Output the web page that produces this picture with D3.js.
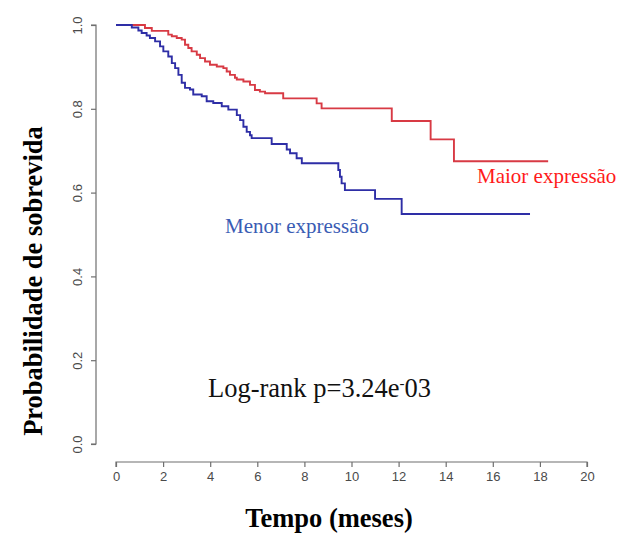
<!DOCTYPE html>
<html>
<head>
<meta charset="utf-8">
<script src="https://cdn.jsdelivr.net/npm/d3@7"></script>
<style>
  html, body { margin: 0; padding: 0; background: #fff; }
  svg { display: block; }
</style>
</head>
<body>
<svg id="chart" width="618" height="534"></svg>
<script>
// Kaplan–Meier survival estimates: step times (months) and survival after each step
const maiorTimes = [0, 1.23, 1.52, 2.22, 2.37, 2.58, 2.79, 2.93, 3.07, 3.21, 3.43, 3.57, 3.78, 3.99, 4.28, 4.56, 4.70, 4.84, 5.05, 5.13, 5.41, 5.69, 5.90, 6.11, 6.33, 7.10, 8.52, 8.73, 11.71, 13.36, 14.35, 18.35];
const maiorSurv  = [1.0, 0.993, 0.986, 0.977, 0.973, 0.969, 0.965, 0.953, 0.945, 0.937, 0.929, 0.921, 0.913, 0.905, 0.901, 0.897, 0.889, 0.881, 0.874, 0.870, 0.865, 0.857, 0.845, 0.841, 0.837, 0.825, 0.813, 0.801, 0.771, 0.727, 0.675, 0.675];

const menorTimes = [0, 0.67, 0.95, 1.09, 1.30, 1.44, 1.66, 1.87, 2.01, 2.22, 2.37, 2.51, 2.65, 2.79, 2.93, 3.14, 3.28, 3.64, 3.85, 4.13, 4.49, 4.77, 5.13, 5.27, 5.41, 5.55, 5.69, 5.76, 6.61, 7.25, 7.39, 7.67, 7.89, 9.44, 9.51, 9.58, 9.72, 11.0, 12.13, 17.58];
const menorSurv  = [1.0, 0.994, 0.987, 0.981, 0.975, 0.969, 0.961, 0.949, 0.937, 0.925, 0.909, 0.897, 0.881, 0.862, 0.850, 0.846, 0.834, 0.830, 0.818, 0.814, 0.806, 0.798, 0.785, 0.773, 0.757, 0.745, 0.737, 0.730, 0.716, 0.703, 0.694, 0.682, 0.670, 0.654, 0.638, 0.622, 0.606, 0.585, 0.549, 0.549];

const xTicks = [0, 2, 4, 6, 8, 10, 12, 14, 16, 18, 20];
const yTicks = [0.0, 0.2, 0.4, 0.6, 0.8, 1.0];

const seriesNames = ["Maior expressão", "Menor expressão"];
const xTitle = "Tempo (meses)";
const yTitle = "Probabilidade de sobrevida";
const pLabel = "Log-rank p=3.24e";
const pExp = "-03";

const svg = d3.select("#chart");

const x = d3.scaleLinear().domain([0, 20]).range([116, 587]);
const y = d3.scaleLinear().domain([0, 1]).range([444, 25]);

const axisColor = "#6f6f6f";
const tickText = "#4a4a4a";
const sans = "'Liberation Sans', Arial, sans-serif";
const serif = "'Liberation Serif', 'Times New Roman', serif";

// x axis (detached below the plot, R style)
const gx = svg.append("g").attr("transform", "translate(0,462)")
  .call(d3.axisBottom(x).tickValues(xTicks).tickSize(5).tickPadding(5).tickFormat(d3.format("d")));
gx.select(".domain").attr("stroke", axisColor).attr("stroke-width", 1.2)
  .attr("d", `M${x(0)},5V0H${x(20)}V5`);
gx.selectAll(".tick line").attr("stroke", axisColor).attr("stroke-width", 1.2);
gx.selectAll(".tick text").attr("fill", tickText)
  .style("font-family", sans).style("font-size", "13px");

// y axis with rotated labels
const gy = svg.append("g").attr("transform", "translate(96,0)")
  .call(d3.axisLeft(y).tickValues(yTicks).tickSize(5).tickFormat(d3.format(".1f")));
gy.select(".domain").attr("stroke", axisColor).attr("stroke-width", 1.2)
  .attr("d", `M-5,${y(0)}H0V${y(1)}H-5`);
gy.selectAll(".tick line").attr("stroke", axisColor).attr("stroke-width", 1.2);
gy.selectAll(".tick text").attr("fill", tickText)
  .style("font-family", sans).style("font-size", "13px")
  .attr("text-anchor", "middle").attr("x", 0).attr("dy", null)
  .attr("transform", "translate(-19,0) rotate(-90)")
  .attr("dominant-baseline", "central");

// survival step curves
const line = d3.line().curve(d3.curveStepAfter).x(d => x(d[0])).y(d => y(d[1]));
const curves = [
  { t: maiorTimes, s: maiorSurv, color: "#d83a44" },
  { t: menorTimes, s: menorSurv, color: "#2e2ea6" }
];
curves.forEach(c => {
  svg.append("path")
    .datum(c.t.map((t, i) => [t, c.s[i]]))
    .attr("fill", "none")
    .attr("stroke", c.color)
    .attr("stroke-width", 1.9)
    .attr("d", line);
});

// group labels
svg.append("text").attr("x", 477).attr("y", 183).attr("fill", "#ff1a1a")
  .style("font-family", serif).style("font-size", "21px").text(seriesNames[0]);
svg.append("text").attr("x", 225).attr("y", 233).attr("fill", "#3a5cb4")
  .style("font-family", serif).style("font-size", "21px").text(seriesNames[1]);

// log-rank p-value
const pt = svg.append("text").attr("x", 208).attr("y", 397).attr("fill", "#111")
  .style("font-family", serif).style("font-size", "26.5px").text(pLabel);
pt.append("tspan").attr("dy", -9).style("font-size", "15px").text(pExp.slice(0, 1));
pt.append("tspan").attr("dy", 9).text(pExp.slice(1));

// axis titles
svg.append("text").attr("x", 329).attr("y", 527).attr("text-anchor", "middle").attr("fill", "#000")
  .style("font-family", serif).style("font-size", "26.5px").style("font-weight", "bold").text(xTitle);
svg.append("text").attr("transform", "translate(42,281) rotate(-90)").attr("text-anchor", "middle").attr("fill", "#000")
  .style("font-family", serif).style("font-size", "26.5px").style("font-weight", "bold").text(yTitle);
</script>
</body>
</html>
